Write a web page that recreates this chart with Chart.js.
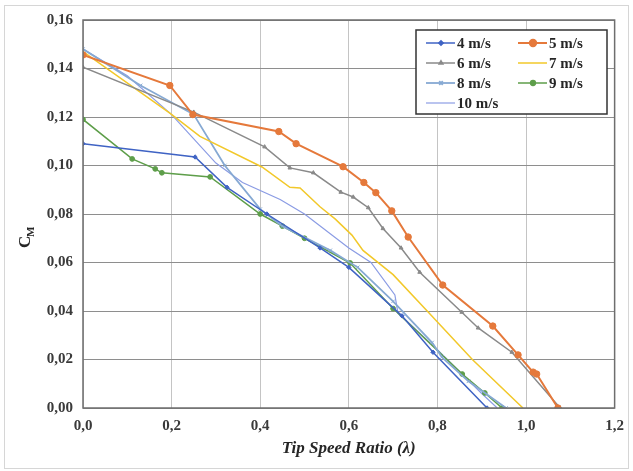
<!DOCTYPE html>
<html>
<head>
<meta charset="utf-8">
<script src="https://cdn.jsdelivr.net/npm/chart.js@4/dist/chart.umd.min.js"></script>
<style>
  html, body { margin: 0; padding: 0; background: #fff; }
  #wrap { width: 633px; height: 471px; position: relative; }
</style>
</head>
<body>
<div id="wrap"><canvas id="cm"></canvas></div>
<script>
// Tip speed ratio (x) and moment coefficient C_M (y) read per wind speed
const tsr4 = [0, 0.253, 0.325, 0.415, 0.535, 0.60, 0.72, 0.79, 0.912];
const cm4  = [0.109, 0.1035, 0.091, 0.080, 0.066, 0.058, 0.038, 0.023, 0.0];

const tsr5 = [0, 0.196, 0.248, 0.442, 0.481, 0.587, 0.634, 0.661, 0.697, 0.734, 0.812, 0.925, 0.982, 1.016, 1.024, 1.072];
const cm5  = [0.1456, 0.133, 0.121, 0.114, 0.109, 0.0995, 0.093, 0.0888, 0.0813, 0.0705, 0.0507, 0.0338, 0.0219, 0.0148, 0.014, 0.0];

const tsr6 = [0, 0.25, 0.41, 0.467, 0.52, 0.582, 0.61, 0.644, 0.677, 0.718, 0.76, 0.855, 0.892, 0.968, 1.077];
const cm6  = [0.1405, 0.122, 0.1077, 0.099, 0.097, 0.089, 0.087, 0.0826, 0.074, 0.066, 0.056, 0.0395, 0.033, 0.023, 0.0];

const tsr7 = [0, 0.196, 0.264, 0.404, 0.467, 0.49, 0.535, 0.569, 0.607, 0.632, 0.70, 0.779, 0.88, 0.993];
const cm7  = [0.147, 0.1216, 0.112, 0.0994, 0.091, 0.0907, 0.083, 0.078, 0.0713, 0.065, 0.055, 0.0396, 0.0198, 0.0];

const tsr8 = [0, 0.13, 0.25, 0.32, 0.40, 0.45, 0.558, 0.62, 0.70, 0.788, 0.81, 0.87, 0.955];
const cm8  = [0.148, 0.133, 0.121, 0.100, 0.082, 0.075, 0.065, 0.058, 0.044, 0.027, 0.021, 0.011, 0.0];

const tsr9 = [0, 0.111, 0.163, 0.178, 0.287, 0.40, 0.45, 0.50, 0.603, 0.70, 0.856, 0.907, 0.946];
const cm9  = [0.119, 0.1027, 0.0986, 0.097, 0.0953, 0.080, 0.075, 0.070, 0.0598, 0.041, 0.014, 0.0062, 0.0];

const tsr10 = [0, 0.1, 0.2, 0.3, 0.36, 0.445, 0.5, 0.6, 0.65, 0.704, 0.711, 0.73, 0.8, 0.9, 0.935];
const cm10  = [0.148, 0.137, 0.121, 0.101, 0.093, 0.086, 0.080, 0.066, 0.060, 0.0466, 0.039, 0.036, 0.024, 0.006, 0.0];

const seriesLabels = ['4 m/s', '5 m/s', '6 m/s', '7 m/s', '8 m/s', '9 m/s', '10 m/s'];

const SERIF = "'Liberation Serif', 'DejaVu Serif', serif";

const pts = (xs, ys) => xs.map((x, i) => ({ x: x, y: ys[i] }));

// line styles, Excel-like
const STYLE = [
  { color: '#3f63c4', pointStyle: 'rectRot', radius: 2.2, width: 1.5 },
  { color: '#e5793b', pointStyle: 'circle', radius: 3.2, width: 2 },
  { color: '#8a8a8a', pointStyle: 'triangle', radius: 2.2, width: 1.5 },
  { color: '#f2c82a', pointStyle: false, radius: 0, width: 1.5 },
  { color: '#86a9d3', pointStyle: 'crossRot', radius: 2.5, width: 1.8 },
  { color: '#5e9e4a', pointStyle: 'circle', radius: 2.4, width: 1.5 },
  { color: '#8b9ce4', pointStyle: false, radius: 0, width: 1.2 },
];

const seriesData = [
  pts(tsr4, cm4), pts(tsr5, cm5), pts(tsr6, cm6), pts(tsr7, cm7),
  pts(tsr8, cm8), pts(tsr9, cm9), pts(tsr10, cm10),
];

const datasets = seriesData.map((d, i) => ({
  label: seriesLabels[i],
  data: d,
  borderColor: STYLE[i].color,
  backgroundColor: STYLE[i].color,
  borderWidth: STYLE[i].width,
  pointStyle: STYLE[i].pointStyle,
  pointRadius: STYLE[i].radius,
  pointBorderWidth: 1,
  tension: 0,
}));

const comma = (v, n) => v.toFixed(n).replace('.', ',');

// frame around the whole picture and the plot area, plus y title and legend
const decor = {
  id: 'decor',
  beforeDraw(chart) {
    const c = chart.ctx;
    c.save();
    c.fillStyle = '#fff';
    c.fillRect(0, 0, chart.width, chart.height);
    c.strokeStyle = '#d6d6d6';
    c.lineWidth = 1;
    c.strokeRect(4.5, 5.5, chart.width - 9, chart.height - 8);
    c.restore();
  },
  afterDatasetsDraw(chart) {
    const c = chart.ctx;
    const a = chart.chartArea;
    c.save();
    c.strokeStyle = '#6e6e6e';
    c.lineWidth = 1.5;
    c.strokeRect(a.left, a.top, a.right - a.left, a.bottom - a.top);

    // y title: C with subscript M
    c.translate(26, 238);
    c.rotate(-Math.PI / 2);
    c.fillStyle = '#262626';
    c.textBaseline = 'middle';
    c.textAlign = 'left';
    c.font = 'bold 17px ' + SERIF;
    c.fillText('C', -10, 0);
    c.font = 'bold 11px ' + SERIF;
    c.fillText('M', 1, 5);
    c.restore();

    // legend box
    const bx = 416, by = 30, bw = 191, bh = 84;
    c.save();
    c.fillStyle = '#fff';
    c.fillRect(bx, by, bw, bh);
    c.strokeStyle = '#333';
    c.lineWidth = 1.5;
    c.strokeRect(bx, by, bw, bh);
    c.font = 'bold 15px ' + SERIF;
    c.textBaseline = 'middle';
    chart.data.datasets.forEach((ds, i) => {
      const col = i % 2, row = Math.floor(i / 2);
      const x0 = bx + 10 + col * 92;
      const y0 = by + 13 + row * 20;
      c.strokeStyle = ds.borderColor;
      c.lineWidth = ds.borderWidth;
      c.beginPath();
      c.moveTo(x0, y0);
      c.lineTo(x0 + 29, y0);
      c.stroke();
      if (ds.pointStyle) {
        c.fillStyle = ds.backgroundColor;
        c.strokeStyle = ds.borderColor;
        Chart.helpers.drawPoint(c, {
          pointStyle: ds.pointStyle, radius: ds.pointRadius, borderWidth: 1, rotation: 0,
        }, x0 + 15, y0);
      }
      c.fillStyle = '#262626';
      c.fillText(ds.label, x0 + 31, y0 + 1);
    });
    c.restore();
  },
};

new Chart(document.getElementById('cm'), {
  type: 'line',
  data: { datasets: datasets },
  plugins: [decor],
  options: {
    responsive: true,
    maintainAspectRatio: false,
    animation: false,
    layout: { padding: { left: 0, top: 20, right: 18, bottom: 0 } },
    plugins: {
      legend: { display: false },
      tooltip: { enabled: false },
    },
    scales: {
      x: {
        type: 'linear',
        min: 0,
        max: 1.2,
        afterFit: (s) => { s.height = 63; },
        border: { display: false },
        grid: { color: '#c4c4c4', lineWidth: 1, drawTicks: false },
        ticks: {
          stepSize: 0.2,
          padding: 9,
          color: '#3a3a3a',
          font: { family: SERIF, size: 15, weight: 'bold' },
          callback: (v) => comma(v, 1),
        },
        title: {
          display: true,
          text: 'Tip Speed Ratio (λ)',
          color: '#262626',
          padding: { top: 0, bottom: 12 },
          font: { family: SERIF, size: 17, weight: 'bold', style: 'italic' },
        },
      },
      y: {
        min: 0,
        max: 0.16,
        afterFit: (s) => { s.width = 83; },
        border: { display: false },
        grid: { color: '#8e8e8e', lineWidth: 1, drawTicks: false },
        ticks: {
          stepSize: 0.02,
          padding: 10,
          color: '#3a3a3a',
          font: { family: SERIF, size: 15, weight: 'bold' },
          callback: (v) => comma(v, 2),
        },
      },
    },
  },
});
</script>
</body>
</html>
